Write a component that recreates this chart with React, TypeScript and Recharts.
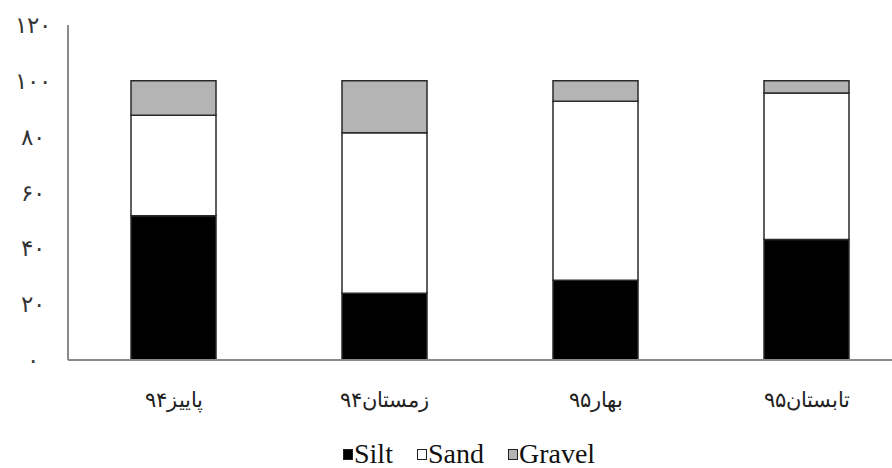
import React from "react";
import { BarChart, Bar, XAxis, YAxis, Legend } from "recharts";

const seasons = ["پاییز۹۴", "زمستان۹۴", "بهار۹۵", "تابستان۹۵"];
const silt = [51.7, 23.9, 28.6, 43.2];
const sand = [36.0, 57.5, 64.1, 52.4];
const gravel = [12.3, 18.6, 7.3, 4.4];
const yTicks = [0, 20, 40, 60, 80, 100, 120];
const yTickLabels = ["۰", "۲۰", "۴۰", "۶۰", "۸۰", "۱۰۰", "۱۲۰"];

const series = [
  { key: "Silt", values: silt, fill: "#000000" },
  { key: "Sand", values: sand, fill: "#ffffff" },
  { key: "Gravel", values: gravel, fill: "#b4b4b4" },
];

const data = seasons.map((season, i) => ({
  season,
  Silt: silt[i],
  Sand: sand[i],
  Gravel: gravel[i],
}));

const SERIF = "'Liberation Serif', 'Times New Roman', 'DejaVu Serif', serif";
const AXIS_COLOR = "#8a8a8a";

function YTick({ x, y, payload }: any) {
  const idx = yTicks.indexOf(payload.value);
  return (
    <text x={x - 33} y={y} dy={8} textAnchor="middle" fill="#333" fontSize={23} letterSpacing={3} fontFamily={SERIF}>
      {yTickLabels[idx] ?? ""}
    </text>
  );
}

function XTick({ x, y, payload }: any) {
  return (
    <text x={x} y={y + 45} textAnchor="middle" fill="#222" fontSize={21} fontFamily={SERIF}>
      {payload.value}
    </text>
  );
}

function LegendContent() {
  return (
    <div
      style={{
        display: "flex",
        justifyContent: "flex-start",
        alignItems: "center",
        height: 30,
        paddingLeft: 335,
        fontFamily: SERIF,
        fontSize: 28,
        lineHeight: "30px",
        color: "#111",
      }}
    >
      {series.map((s) => (
        <span key={s.key} style={{ display: "inline-flex", alignItems: "center", marginRight: 24 }}>
          <span
            style={{
              display: "inline-block",
              boxSizing: "border-box",
              width: 10,
              height: 11,
              background: s.fill,
              border: "1.5px solid #222",
              marginRight: 1,
            }}
          />
          {s.key}
        </span>
      ))}
    </div>
  );
}

export default function App() {
  return (
    <div style={{ position: "fixed", left: 0, top: 0, width: 892, height: 468, overflow: "hidden", background: "#fff" }}>
      <BarChart
        width={912}
        height={468}
        data={data}
        margin={{ top: 25, right: 0, bottom: 0, left: 8 }}
        barSize={85}
      >
        <XAxis
          dataKey="season"
          tickLine={false}
          tickSize={0}
          tick={<XTick />}
          height={79}
          axisLine={{ stroke: AXIS_COLOR, strokeWidth: 2 }}
        />
        <YAxis
          width={60}
          domain={[0, 120]}
          ticks={yTicks}
          tickLine={false}
          tickSize={0}
          tick={<YTick />}
          axisLine={{ stroke: AXIS_COLOR, strokeWidth: 2 }}
        />
        <Legend verticalAlign="bottom" height={29} content={<LegendContent />} />
        {series.map((s) => (
          <Bar
            key={s.key}
            dataKey={s.key}
            stackId="a"
            fill={s.fill}
            stroke="#2a2a2a"
            strokeWidth={1.5}
            isAnimationActive={false}
          />
        ))}
      </BarChart>
    </div>
  );
}
